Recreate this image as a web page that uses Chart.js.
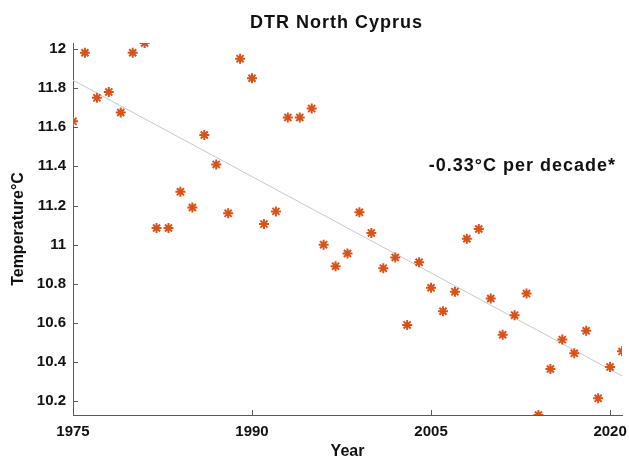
<!DOCTYPE html>
<html>
<head>
<meta charset="utf-8">
<script src="https://cdn.jsdelivr.net/npm/chart.js@4"></script>
<style>
  html, body { margin: 0; padding: 0; background: #fff; }
  #wrap { width: 629px; height: 461px; }
</style>
</head>
<body>
<div id="wrap"><canvas id="dtrChart" width="629" height="461"></canvas></div>
<script>
// diurnal temperature range, North Cyprus
const years = [1975, 1976, 1977, 1978, 1979, 1980, 1981, 1982, 1983, 1984,
    1985, 1986, 1987, 1988, 1989, 1990, 1991, 1992, 1993, 1994,
    1995, 1996, 1997, 1998, 1999, 2000, 2001, 2002, 2003, 2004,
    2005, 2006, 2007, 2008, 2009, 2010, 2011, 2012, 2013, 2014,
    2015, 2016, 2017, 2018, 2019, 2020, 2021];
const dtr = [11.63, 11.98, 11.75, 11.78, 11.675, 11.98, 12.03, 11.085, 11.085, 11.27,
    11.19, 11.56, 11.41, 11.16, 11.95, 11.85, 11.105, 11.17, 11.65, 11.65,
    11.695, 11.0, 10.89, 10.955, 11.165, 11.06, 10.88, 10.935, 10.59, 10.91,
    10.78, 10.66, 10.76, 11.03, 11.08, 10.725, 10.54, 10.64, 10.75, 10.13,
    10.365, 10.515, 10.445, 10.56, 10.215, 10.375, 10.455];

// fitted trend (end points)
const trendYears = [1975, 2021];
const trendValues = [11.84, 10.33];

const xTicks = [1975, 1990, 2005, 2020];
const yTicks = [10.2, 10.4, 10.6, 10.8, 11, 11.2, 11.4, 11.6, 11.8, 12];

const trendText = '-0.33°C per decade*';
const trendTextPos = { x: 2004.8, y: 11.40 };

const axisColor = '#5a5a5a';
const markerColor = '#D95319';

const scatterPts = years.map((y, i) => ({ x: y, y: dtr[i] }));
const trendPts = trendYears.map((y, i) => ({ x: y, y: trendValues[i] }));

// matlab style: ticks inside the box, title and annotation text
const extrasPlugin = {
    id: 'extras',
    afterDraw(chart) {
        const ctx = chart.ctx;
        const xs = chart.scales.x;
        const ys = chart.scales.y;
        const area = chart.chartArea;
        ctx.save();
        ctx.strokeStyle = axisColor;
        ctx.lineWidth = 1;
        ctx.beginPath();
        xTicks.forEach(v => {
            const px = Math.round(xs.getPixelForValue(v)) + 0.5;
            ctx.moveTo(px, area.bottom);
            ctx.lineTo(px, area.bottom - 5);
        });
        yTicks.forEach(v => {
            const py = Math.round(ys.getPixelForValue(v)) + 0.5;
            ctx.moveTo(area.left, py);
            ctx.lineTo(area.left + 5, py);
        });
        ctx.stroke();

        ctx.fillStyle = '#111';
        ctx.textBaseline = 'middle';
        ctx.textAlign = 'center';
        ctx.font = 'bold 18px "Liberation Sans", Arial, sans-serif';
        ctx.letterSpacing = '1px';
        ctx.fillText('DTR North Cyprus', (area.left + area.right) / 2 - 11, 23);

        ctx.textAlign = 'left';
        ctx.fillText(trendText, xs.getPixelForValue(trendTextPos.x), ys.getPixelForValue(trendTextPos.y));
        ctx.restore();
    }
};

const ctx = document.getElementById('dtrChart').getContext('2d');
const chart = new Chart(ctx, {
    type: 'scatter',
    data: {
        datasets: [{
            type: 'line',
            data: trendPts,
            borderColor: '#c8c8c8',
            borderWidth: 1,
            pointRadius: 0,
            fill: false,
            order: 2
        }, {
            data: scatterPts,
            pointStyle: 'star',
            pointRadius: 5,
            borderWidth: 2,
            borderColor: markerColor,
            backgroundColor: markerColor,
            order: 1
        }]
    },
    options: {
        responsive: false,
        animation: false,
        layout: { padding: { top: 43, right: 6, left: 0, bottom: 0 } },
        plugins: {
            legend: { display: false },
            tooltip: { enabled: false }
        },
        scales: {
            x: {
                type: 'linear',
                min: 1975,
                max: 2021,
                afterBuildTicks: (scale) => { scale.ticks = xTicks.map(v => ({ value: v })); },
                afterFit: (scale) => {
                    scale.height = 46;
                    scale.paddingLeft = 0;
                    scale.paddingRight = 0;
                },
                grid: { display: false, drawTicks: false },
                border: { display: true, color: axisColor, width: 1 },
                ticks: {
                    padding: 8,
                    color: '#111',
                    maxRotation: 0,
                    font: { family: '"Liberation Sans", Arial, sans-serif', size: 15, weight: 'bold' },
                    callback: (v) => String(v)
                },
                title: {
                    display: true,
                    text: 'Year',
                    color: '#111',
                    padding: { top: 0, bottom: 0 },
                    font: { family: '"Liberation Sans", Arial, sans-serif', size: 16, weight: 'bold' }
                }
            },
            y: {
                min: Math.min(...dtr),
                max: Math.max(...dtr),
                afterBuildTicks: (scale) => { scale.ticks = yTicks.map(v => ({ value: v })); },
                afterFit: (scale) => { scale.width = 73; },
                grid: { display: false, drawTicks: false },
                border: { display: true, color: axisColor, width: 1 },
                ticks: {
                    padding: 7,
                    color: '#111',
                    font: { family: '"Liberation Sans", Arial, sans-serif', size: 15, weight: 'bold' },
                    callback: (v) => String(v)
                },
                title: {
                    display: true,
                    text: 'Temperature°C',
                    color: '#111',
                    padding: { top: 9, bottom: 0 },
                    font: { family: '"Liberation Sans", Arial, sans-serif', size: 16, weight: 'bold' }
                }
            }
        }
    },
    plugins: [extrasPlugin]
});
</script>
</body>
</html>
